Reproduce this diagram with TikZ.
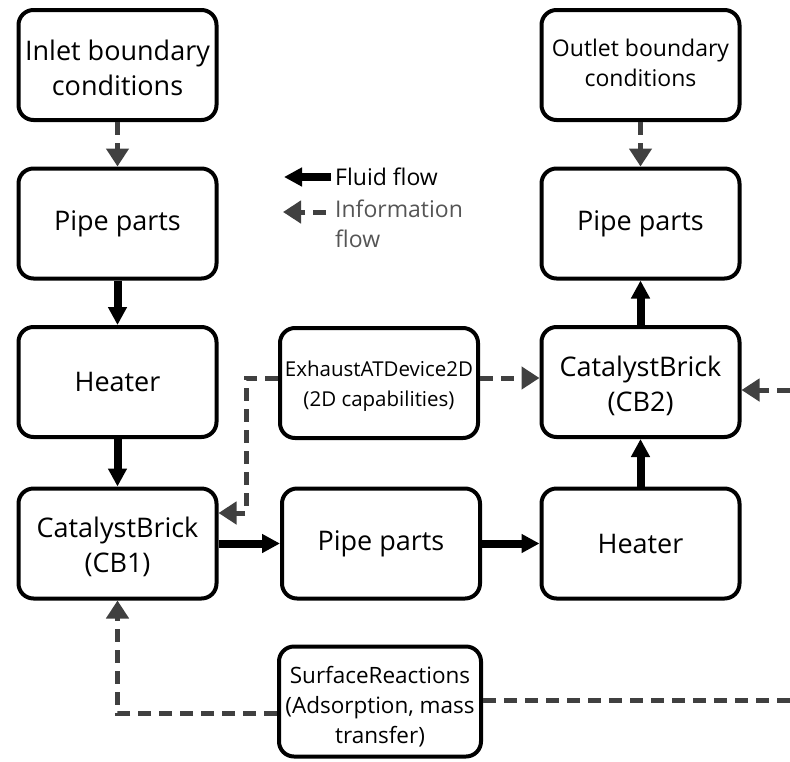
\documentclass[tikz,border=0pt]{standalone}
\usepackage{fontspec}
\setmainfont{Open Sans}
\usetikzlibrary{arrows.meta}
\definecolor{infoc}{HTML}{404040}
\definecolor{legc}{HTML}{555555}
\begin{document}
\begin{tikzpicture}[x=1pt,y=-1pt,
  box/.style={draw=black, line width=4pt, rounded corners=15pt, fill=white, align=center,
    inner sep=0pt, minimum width=198pt, minimum height=110pt},
  big/.style={font=\fontsize{27}{35}\selectfont},
  mid/.style={font=\fontsize{23}{30}\selectfont},
  small/.style={font=\fontsize{20.5}{30}\selectfont},
  txt/.style={inner sep=0pt, align=center},
  fluid/.style={draw=black, line width=8pt, -{Triangle[length=18pt,width=18pt]}},
  info/.style={draw=infoc, line width=5pt, dash pattern=on 13pt off 8pt,
    -{Triangle[length=18pt,width=22pt]}},
  infoline/.style={draw=infoc, line width=5pt, dash pattern=on 13pt off 8pt},
]
\useasboundingbox (0,0) rectangle (790,761);
% left column
\node[box] (inlet) at (117.5,65) {};
\node[txt,big] (inletT) at (117.5,68) {Inlet boundary\\conditions};
\node[box,big] (pipeL) at (117.5,223.5) {Pipe parts};
\node[box,big] (heatL) at (117.5,382) {Heater};
\node[box] (cb1) at (117.5,543.5) {};
\node[txt,big] (cb1T) at (117.5,546.5) {CatalystBrick\\(CB1)};
% middle
\node[box,big] (pipeM) at (381,543.5) {Pipe parts};
\node[box] (exh) at (379,383) {};
\node[txt,small] (exhT) at (379,386) {ExhaustATDevice2D\\(2D capabilities)};
\node[box,minimum width=202pt] (sfc) at (380,701.5) {};
\node[txt,font=\fontsize{22.5}{30}\selectfont] (sfcT) at (380,707) {SurfaceReactions\\(Adsorption, mass\\transfer)};
% right column
\node[box] (outlet) at (640.5,65) {};
\node[txt,mid] (outletT) at (640.5,63) {Outlet boundary\\conditions};
\node[box,big] (pipeR) at (640.5,223.5) {Pipe parts};
\node[box] (cb2) at (640.5,382) {};
\node[txt,big] (cb2T) at (640.5,386) {CatalystBrick\\(CB2)};
\node[box,big] (heatR) at (640.5,543.5) {Heater};
% fluid flow
\draw[fluid] (pipeL) -- (heatL);
\draw[fluid] (heatL) -- (cb1);
\draw[fluid] (cb1) -- (pipeM);
\draw[fluid] (pipeM) -- (heatR);
\draw[fluid] (heatR) -- (cb2);
\draw[fluid] (cb2) -- (pipeR);
% information flow
\draw[info] (inlet) -- (pipeL);
\draw[info] (outlet) -- (pipeR);
\coordinate (e0) at (0,378);
\draw[info] (exh.east |- e0) -- (e0 -| cb2.west);
\coordinate (e1) at (246,513);
\draw[info] (exh.west |- e0) -| (e1) -- (e1 -| cb1.east);
\coordinate (s0) at (0,713);
\draw[info] (sfc.west |- s0) -| (cb1.south);
\coordinate (r1) at (790,390);
\draw[info] (r1) -- (r1 -| cb2.east);
\coordinate (r2) at (790,700);
\draw[infoline] (sfc.east |- r2) -- (r2);
% legend
\coordinate (lf1) at (331,177);
\coordinate (lf2) at (284,177);
\draw[fluid] (lf1) -- (lf2);
\node[anchor=west, mid, inner sep=0pt] (lfl) at (335,177) {Fluid flow};
\coordinate (li1) at (326,212);
\coordinate (li2) at (283,212);
\draw[info] (li1) -- (li2);
\node[anchor=west, mid, inner sep=0pt, align=left, text=legc] (lil) at (335,224) {Information\\flow};
\end{tikzpicture}
\end{document}
